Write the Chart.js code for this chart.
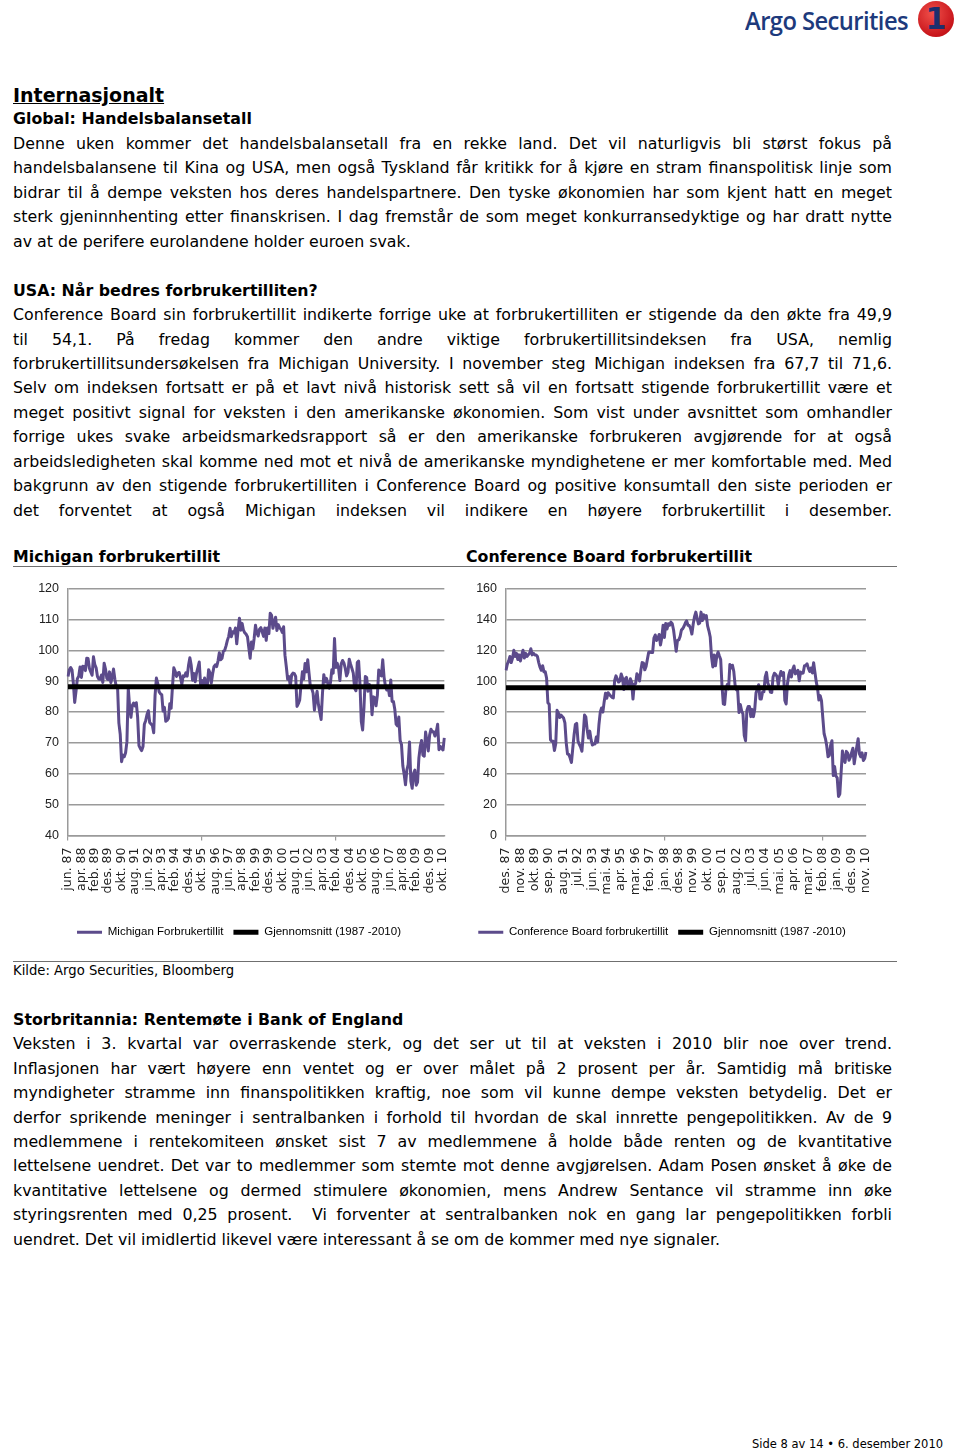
<!DOCTYPE html>
<html lang="no">
<head>
<meta charset="utf-8">
<title>Forbrukertillit</title>
<script src="https://cdn.jsdelivr.net/npm/chart.js@4.4.1/dist/chart.umd.min.js"></script>
<style>
  html, body { margin: 0; padding: 0; background: #fff; }
  body { width: 960px; height: 1451px; position: relative; overflow: hidden;
         font-family: 'DejaVu Sans', Verdana, sans-serif; color: #000; }
  .blk { position: absolute; left: 13px; width: 879px; font-size: 15.8px; line-height: 24.45px; }
  .ln { text-align: justify; text-align-last: justify; }
  .b { font-weight: bold; }
  .h1 { font-size: 19px; font-weight: bold; text-decoration: underline; }
  .gap { height: 24.45px; }
  .ctitle { position: absolute; top: 545px; font-size: 15.8px; font-weight: bold; line-height: 24px; }
  .rule { position: absolute; left: 13px; width: 884px; height: 1px; background: #6f6f6f; }
  .chartbox { position: absolute; top: 572px; width: 445px; height: 385px; }
  .logo { position: absolute; left: 745px; top: 3px; font-family: 'Open Sans', sans-serif; font-weight: 600;
          font-size: 25px; letter-spacing: -0.6px; color: #1d3a7c; line-height: 34px;
          transform: scaleX(0.95); transform-origin: left center; }
  .badge { position: absolute; left: 918px; top: 1px; width: 36px; height: 36px; border-radius: 50%;
           background: radial-gradient(circle at 40% 35%, #f0504a, #c8151b 70%, #a50e14);
           color: #1d2f6e; font: bold 30px 'DejaVu Sans', sans-serif; text-align: center; line-height: 36px; }
  .kilde { position: absolute; left: 13px; top: 963px; font-size: 13.2px; line-height: 16px; }
  .foot { position: absolute; left: 752px; top: 1437px; font-size: 11.5px; line-height: 15px; }
</style>
</head>
<body>
<div class="logo">Argo Securities</div>
<div class="badge">1</div>

<div class="blk" style="top:83px">
  <div class="h1">Internasjonalt</div>
  <div class="b">Global: Handelsbalansetall</div>
  <div class="ln">Denne uken kommer det handelsbalansetall fra en rekke land. Det vil naturligvis bli størst fokus på</div>
  <div class="ln">handelsbalansene til Kina og USA, men også Tyskland får kritikk for å kjøre en stram finanspolitisk linje som</div>
  <div class="ln">bidrar til å dempe veksten hos deres handelspartnere. Den tyske økonomien har som kjent hatt en meget</div>
  <div class="ln">sterk gjeninnhenting etter finanskrisen. I dag fremstår de som meget konkurransedyktige og har dratt nytte</div>
  <div>av at de perifere eurolandene holder euroen svak.</div>
  <div class="gap"></div>
  <div class="b">USA: Når bedres forbrukertilliten?</div>
  <div class="ln">Conference Board sin forbrukertillit indikerte forrige uke at forbrukertilliten er stigende da den økte fra 49,9</div>
  <div class="ln">til 54,1. På fredag kommer den andre viktige forbrukertillitsindeksen fra USA, nemlig</div>
  <div class="ln">forbrukertillitsundersøkelsen fra Michigan University. I november steg Michigan indeksen fra 67,7 til 71,6.</div>
  <div class="ln">Selv om indeksen fortsatt er på et lavt nivå historisk sett så vil en fortsatt stigende forbrukertillit være et</div>
  <div class="ln">meget positivt signal for veksten i den amerikanske økonomien. Som vist under avsnittet som omhandler</div>
  <div class="ln">forrige ukes svake arbeidsmarkedsrapport så er den amerikanske forbrukeren avgjørende for at også</div>
  <div class="ln">arbeidsledigheten skal komme ned mot et nivå de amerikanske myndighetene er mer komfortable med. Med</div>
  <div class="ln">bakgrunn av den stigende forbrukertilliten i Conference Board og positive konsumtall den siste perioden er</div>
  <div class="ln">det forventet at også Michigan indeksen vil indikere en høyere forbrukertillit i desember.</div>
</div>

<div class="ctitle" style="left:13px">Michigan forbrukertillit</div>
<div class="ctitle" style="left:466px">Conference Board forbrukertillit</div>
<div class="rule" style="top:566px"></div>

<div class="chartbox" style="left:13px; width:452px"><canvas id="michigan"></canvas></div>
<div class="chartbox" style="left:458px"><canvas id="conference"></canvas></div>

<div class="rule" style="top:961px"></div>
<div class="kilde">Kilde: Argo Securities, Bloomberg</div>

<div class="blk" style="top:1008px; line-height:24.4px">
  <div class="b">Storbritannia: Rentemøte i Bank of England</div>
  <div class="ln">Veksten i 3. kvartal var overraskende sterk, og det ser ut til at veksten i 2010 blir noe over trend.</div>
  <div class="ln">Inflasjonen har vært høyere enn ventet og er over målet på 2 prosent per år. Samtidig må britiske</div>
  <div class="ln">myndigheter stramme inn finanspolitikken kraftig, noe som vil kunne dempe veksten betydelig. Det er</div>
  <div class="ln">derfor sprikende meninger i sentralbanken i forhold til hvordan de skal innrette pengepolitikken. Av de 9</div>
  <div class="ln">medlemmene i rentekomiteen ønsket sist 7 av medlemmene å holde både renten og de kvantitative</div>
  <div class="ln">lettelsene uendret. Det var to medlemmer som stemte mot denne avgjørelsen. Adam Posen ønsket å øke de</div>
  <div class="ln">kvantitative lettelsene og dermed stimulere økonomien, mens Andrew Sentance vil stramme inn øke</div>
  <div class="ln">styringsrenten med 0,25 prosent. &nbsp;Vi forventer at sentralbanken nok en gang lar pengepolitikken forbli</div>
  <div>uendret. Det vil imidlertid likevel være interessant å se om de kommer med nye signaler.</div>
</div>

<div class="foot">Side 8 av 14 &bull; 6. desember 2010</div>

<script>
const monthNames = ['jan.', 'feb.', 'mar.', 'apr.', 'mai.', 'jun.', 'jul.', 'aug.', 'sep.', 'okt.', 'nov.', 'des.'];

// Michigan forbrukertillit, månedlig fra jun. 87 til nov. 10
const michiganStartYear = 1987;
const michiganStartMonth = 5;
const michiganValues = [
  91.5, 93.7, 94.4, 93.6, 89.3, 83.1, 86.8,
  90.8, 91.6, 94.6, 91.2, 94.8, 94.7, 93.4, 97.4, 97.3, 94.1, 93.0, 91.9,
  97.9, 95.4, 94.3, 91.5, 90.7, 90.6, 92.0, 89.6, 95.8, 93.9, 90.9, 90.5,
  93.0, 89.5, 91.3, 93.9, 90.6, 88.3, 88.2, 76.4, 72.8, 63.9, 66.0, 65.5,
  66.8, 70.4, 87.7, 81.8, 78.3, 82.1, 82.9, 82.0, 83.0, 78.3, 69.1, 68.2,
  67.5, 68.8, 76.0, 77.2, 79.2, 80.4, 76.6, 76.1, 75.6, 73.3, 85.3, 91.0,
  89.3, 86.6, 85.9, 85.6, 80.3, 81.5, 77.0, 77.3, 77.9, 82.7, 81.2, 88.2,
  94.3, 93.2, 91.5, 92.6, 92.8, 91.2, 89.0, 91.7, 91.5, 92.7, 91.6, 95.1,
  97.6, 95.1, 90.3, 92.5, 89.8, 92.7, 94.4, 96.2, 88.9, 90.2, 88.2, 91.0,
  89.3, 88.5, 93.7, 92.7, 89.4, 92.4, 94.7, 95.3, 94.7, 96.5, 99.2, 96.9,
  97.4, 99.7, 100.0, 101.4, 103.2, 104.5, 107.1, 104.4, 106.0, 105.6, 107.2, 102.1,
  106.6, 110.4, 106.5, 108.7, 106.5, 105.6, 105.2, 104.4, 100.9, 97.4, 102.7, 100.5,
  103.9, 108.1, 105.7, 104.6, 106.8, 107.3, 106.0, 104.5, 107.2, 103.2, 107.2, 105.4,
  112.0, 111.3, 107.1, 109.2, 110.7, 106.4, 108.3, 107.3, 106.8, 105.8, 107.6, 98.4,
  94.7, 90.6, 91.5, 88.4, 92.0, 92.6, 92.4, 91.5, 81.8, 82.7, 83.9, 88.8,
  93.0, 90.7, 95.7, 93.0, 96.9, 92.4, 88.1, 87.6, 86.1, 80.6, 84.2, 86.7,
  82.4, 79.9, 77.6, 86.0, 92.1, 89.7, 90.9, 89.3, 87.7, 89.6, 93.7, 92.6,
  103.8, 94.4, 95.8, 94.2, 90.2, 95.6, 96.7, 95.9, 94.2, 91.7, 92.8, 97.1,
  95.5, 94.1, 92.6, 87.7, 86.9, 96.0, 96.5, 89.1, 76.9, 74.2, 81.6, 91.5,
  91.2, 86.7, 88.9, 87.4, 79.1, 84.9, 84.7, 82.0, 85.4, 93.6, 92.1, 91.7,
  96.9, 91.3, 88.4, 87.1, 88.3, 85.3, 90.4, 83.4, 83.4, 80.9, 76.1, 75.5,
  78.4, 70.8, 69.5, 62.6, 59.8, 56.4, 61.2, 63.0, 70.3, 57.6, 55.3, 60.1,
  61.2, 56.3, 57.3, 65.1, 68.7, 70.8, 66.0, 65.7, 73.5, 70.6, 67.4, 72.5,
  74.4, 73.6, 73.6, 72.2, 73.6, 76.0, 67.8, 68.9, 68.2, 67.7, 71.6
];
const michiganAverage = 88.2;
const michiganLabelStep = 10;
const michiganTicks = [40, 120, 10];

// Conference Board forbrukertillit, månedlig fra des. 87 til nov. 10
const cbStartYear = 1987;
const cbStartMonth = 11;
const cbValues = [
  107,
  111, 113, 116, 112, 115, 120, 116, 118, 114, 117, 113, 117,
  120, 115, 118, 116, 117, 118, 121, 117, 118, 117, 117, 116,
  112, 109, 107, 110, 106, 106, 102, 86, 85, 62, 61, 61,
  55.1, 59.4, 81.1, 79.4, 76.4, 78.0, 77.0, 76.1, 72.9, 60.1, 52.7, 52.5,
  50.2, 47.3, 56.5, 65.1, 71.9, 72.6, 61.2, 59.0, 57.3, 54.6, 65.6, 78.1,
  76.7, 68.5, 63.2, 67.6, 61.9, 58.6, 59.2, 59.3, 63.8, 60.5, 71.9, 79.8,
  82.6, 79.9, 86.7, 92.1, 88.9, 92.5, 91.3, 90.4, 89.5, 89.1, 100.4, 103.4,
  101.4, 99.4, 100.2, 104.6, 102.0, 94.6, 101.4, 102.4, 97.3, 96.3, 101.6, 99.2,
  88.4, 98.0, 98.4, 104.8, 103.5, 100.1, 107.0, 112.0, 111.8, 107.3, 109.5, 114.2,
  118.7, 118.9, 118.5, 118.5, 127.9, 129.9, 126.3, 127.6, 130.2, 123.4, 128.1, 136.2,
  128.3, 137.4, 133.8, 137.2, 136.3, 138.2, 137.2, 133.1, 126.4, 119.3, 126.4, 126.7,
  128.9, 133.1, 134.0, 135.5, 137.7, 139.0, 136.2, 136.0, 134.2, 130.5, 137.0, 141.7,
  144.7, 140.8, 137.1, 137.7, 144.7, 139.2, 143.0, 140.8, 142.5, 135.8, 132.6, 128.6,
  115.7, 109.2, 116.9, 109.9, 116.1, 118.9, 116.3, 114.0, 97.0, 85.3, 84.9, 94.6,
  97.8, 95.0, 110.7, 108.5, 110.3, 106.3, 97.4, 94.5, 93.7, 79.6, 84.9, 80.7,
  78.8, 64.8, 61.4, 81.0, 83.6, 83.5, 77.0, 81.7, 77.0, 81.7, 92.5, 94.8,
  97.7, 88.5, 88.5, 93.0, 93.1, 102.8, 105.7, 98.7, 96.7, 92.9, 92.6, 102.7,
  105.1, 104.4, 103.0, 97.5, 103.1, 106.2, 103.6, 105.5, 87.5, 85.2, 98.3, 103.8,
  106.8, 102.7, 107.5, 109.8, 104.7, 105.4, 107.0, 100.2, 105.9, 105.1, 105.3, 110.0,
  110.2, 111.2, 108.2, 106.3, 108.5, 105.3, 111.9, 105.6, 99.5, 95.2, 87.8, 90.6,
  87.3, 76.4, 65.9, 62.8, 58.1, 51.0, 51.9, 58.5, 61.4, 38.8, 44.7, 38.6,
  37.4, 25.3, 26.9, 40.8, 54.8, 49.3, 47.4, 54.5, 53.4, 48.7, 50.6, 53.6,
  56.5, 46.4, 52.3, 57.7, 62.7, 52.9, 51.0, 53.5, 48.6, 49.9, 54.1
];
const cbAverage = 95.7;
const cbLabelStep = 11;
const cbTicks = [0, 160, 20];

const purple = '#5c4b8b';
const gridGray = '#9a9a9a';
const narrowFont = "'Liberation Sans', Arial, sans-serif";

function monthLabels(year, month, count) {
  const out = [];
  for (let i = 0; i < count; i++) {
    const m = (month + i) % 12;
    const y = year + Math.floor((month + i) / 12);
    out.push(monthNames[m] + ' ' + String(y).slice(2));
  }
  return out;
}

function lagGraf(id, labels, values, avg, step, ticks, names, yWidth, padRight) {
  new Chart(document.getElementById(id), {
    type: 'line',
    data: {
      labels: labels,
      datasets: [
        {
          label: names[0],
          data: values,
          borderColor: purple,
          backgroundColor: purple,
          borderWidth: 3,
          borderJoinStyle: 'round',
          pointRadius: 0,
          order: 1
        },
        {
          label: names[1],
          data: labels.map(() => avg),
          borderColor: '#000',
          backgroundColor: '#000',
          borderWidth: 5,
          pointRadius: 0,
          order: 0
        }
      ]
    },
    options: {
      responsive: true,
      maintainAspectRatio: false,
      animation: false,
      layout: { padding: { top: 15, right: padRight, left: 0, bottom: 9 } },
      plugins: {
        tooltip: { enabled: false },
        legend: {
          position: 'bottom',
          labels: {
            usePointStyle: true,
            pointStyle: 'line',
            pointStyleWidth: 25,
            boxHeight: 4,
            padding: 10,
            color: '#000',
            font: { family: narrowFont, size: 11.5 },
            sort: (a, b) => a.datasetIndex - b.datasetIndex
          }
        }
      },
      scales: {
        x: {
          afterFit: s => { s.height = 81; },
          grid: {
            drawOnChartArea: false,
            drawTicks: true,
            tickLength: 5,
            lineWidth: 1.2,
            color: ctx => ctx.index % step === 0 ? gridGray : 'rgba(0,0,0,0)'
          },
          border: { color: gridGray, width: 1.5 },
          ticks: {
            autoSkip: false,
            minRotation: 90,
            maxRotation: 90,
            padding: 7,
            color: '#222',
            font: { family: "'DejaVu Sans', Verdana, sans-serif", size: 12.5 },
            callback: function (v, i) { return i % step === 0 ? this.getLabelForValue(v) : null; }
          }
        },
        y: {
          min: ticks[0],
          max: ticks[1],
          afterFit: s => { s.width = yWidth; },
          grid: { color: gridGray, lineWidth: 1.5, drawTicks: false },
          border: { color: gridGray, width: 1.5 },
          ticks: {
            stepSize: ticks[2],
            padding: 9,
            color: '#222',
            font: { family: narrowFont, size: 12.5 }
          }
        }
      }
    }
  });
}

lagGraf('michigan',
  monthLabels(michiganStartYear, michiganStartMonth, michiganValues.length),
  michiganValues, michiganAverage, michiganLabelStep, michiganTicks,
  ['Michigan Forbrukertillit', 'Gjennomsnitt (1987 -2010)'], 55, 0);

lagGraf('conference',
  monthLabels(cbStartYear, cbStartMonth, cbValues.length),
  cbValues, cbAverage, cbLabelStep, cbTicks,
  ['Conference Board forbrukertillit', 'Gjennomsnitt (1987 -2010)'], 48, 37);
</script>
</body>
</html>
